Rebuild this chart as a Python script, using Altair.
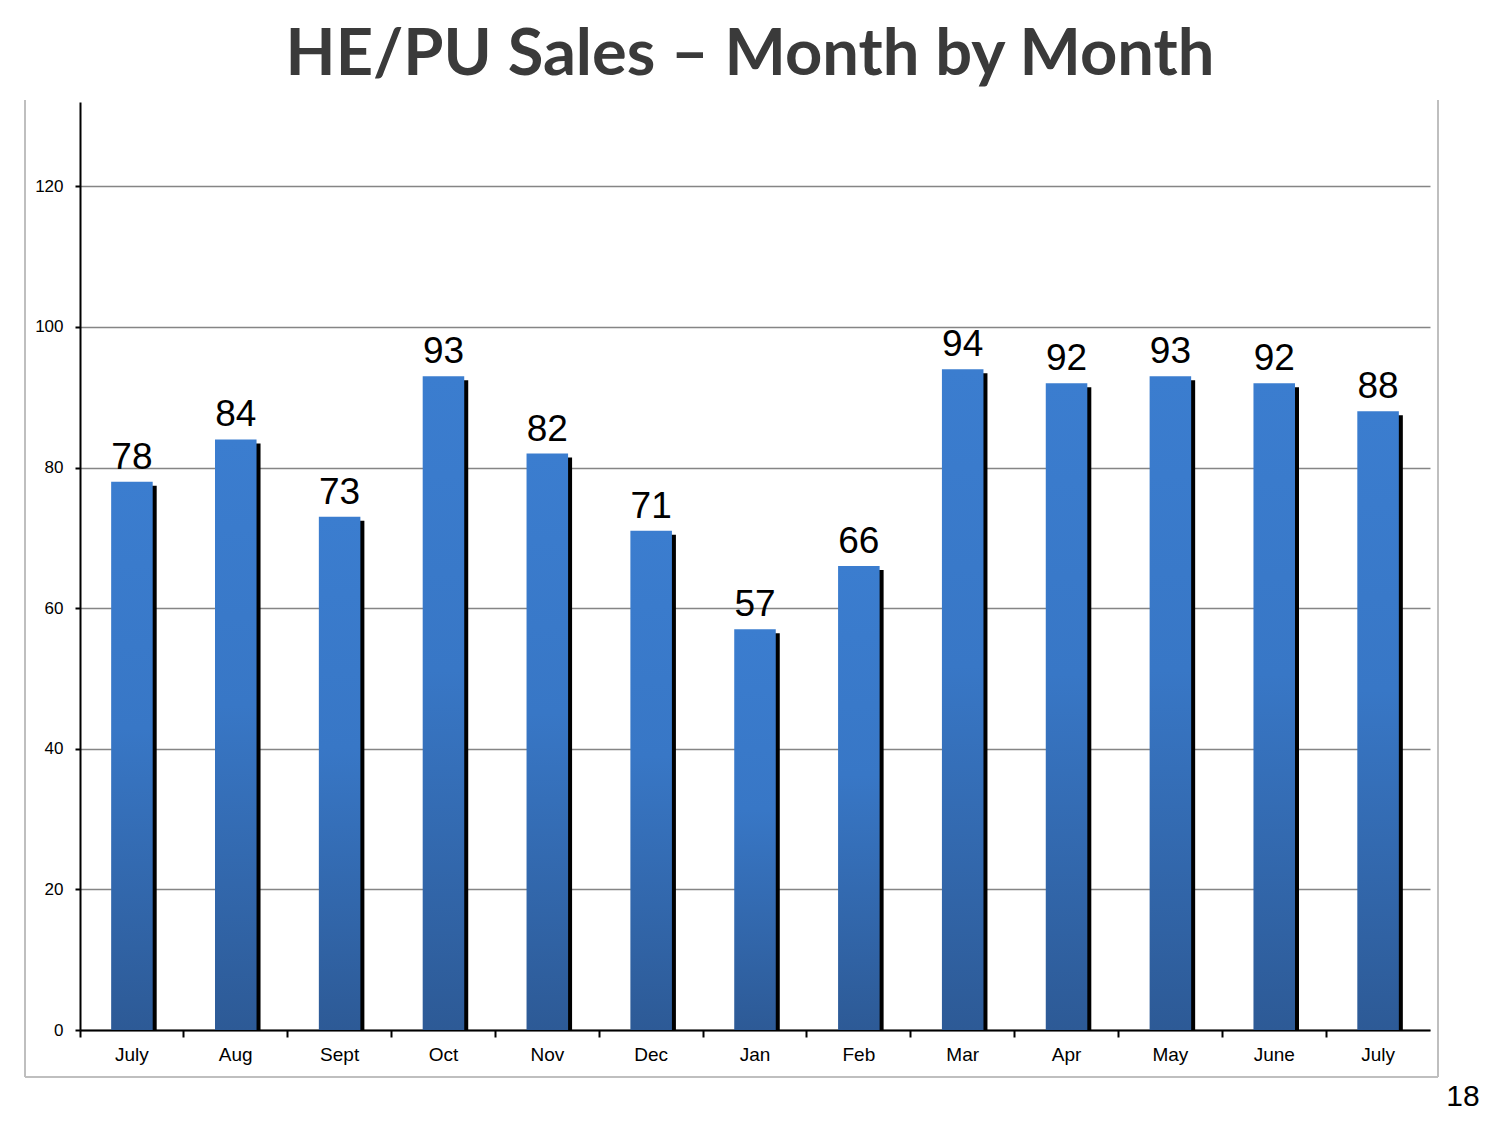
import json
import altair as alt
import pandas as pd

months = ["July", "Aug", "Sept", "Oct", "Nov", "Dec", "Jan", "Feb", "Mar", "Apr", "May", "June", "July"]
sales = [78, 84, 73, 93, 82, 71, 57, 66, 94, 92, 93, 92, 88]
y_ticks = [0, 20, 40, 60, 80, 100, 120]
title_text = "HE/PU Sales \u2013 Month by Month"
page_number = "18"

df = pd.DataFrame({"pos": list(range(len(months))), "month": months, "sales": sales})

W, H = 1350, 928
label_expr = json.dumps(months) + "[datum.value]"

x_enc = alt.X(
    "pos:O",
    scale=alt.Scale(paddingInner=0, paddingOuter=0),
    axis=alt.Axis(
        title=None, labelExpr=label_expr, labelAngle=0, labelFont="Liberation Sans",
        labelFontSize=19, labelColor="black", labelPadding=8, tickSize=7, tickWidth=2,
        tickColor="black", domainColor="black", domainWidth=2, bandPosition=0, grid=False,
    ),
)
y_scale = alt.Scale(domain=[0, 132], nice=False, zero=True)
y_axis = alt.Axis(
    title=None, values=y_ticks, labelFont="Liberation Sans", labelFontSize=17,
    labelColor="black", labelPadding=12, tickSize=5, tickWidth=2, tickColor="black",
    domainColor="black", domainWidth=2, grid=True, gridColor="#858585", gridWidth=1.7,
)

base = alt.Chart(df)

shadow = base.mark_bar(
    color="black", width={"band": 0.4}, xOffset=4, yOffset=4, y2Offset=0
).encode(x=x_enc, y=alt.Y("sales:Q", scale=y_scale, axis=y_axis), y2=alt.datum(0))

bars = base.mark_bar(
    width={"band": 0.4},
    color=alt.Gradient(
        gradient="linear",
        stops=[
            alt.GradientStop(color="#3b7dcf", offset=0),
            alt.GradientStop(color="#3877c6", offset=0.45),
            alt.GradientStop(color="#2d5a96", offset=1),
        ],
        x1=0, x2=0, y1=0, y2=1,
    ),
).encode(x=x_enc, y=alt.Y("sales:Q", scale=y_scale, axis=y_axis))

labels = base.mark_text(
    font="Liberation Sans", fontSize=37, color="black", baseline="alphabetic", dy=-13
).encode(x=x_enc, y=alt.Y("sales:Q", scale=y_scale), text="sales:Q")

title = alt.Chart(pd.DataFrame({"t": [title_text]})).mark_text(
    font="Lato", fontWeight="bold", fontSize=65, color="#3a3a3a", baseline="alphabetic", align="center"
).encode(x=alt.value(670), y=alt.value(-27), text="t:N")

pnum = alt.Chart(pd.DataFrame({"t": [page_number]})).mark_text(
    font="Liberation Sans", fontSize=30, color="black", baseline="top", align="center"
).encode(x=alt.value(1383), y=alt.value(980), text="t:N")

frame_color = "#bfbfbf"
frame_left = alt.Chart(pd.DataFrame({"a": [0]})).mark_rule(color=frame_color, strokeWidth=2).encode(
    x=alt.value(-55), y=alt.value(-2), y2=alt.value(975))
frame_right = alt.Chart(pd.DataFrame({"a": [0]})).mark_rule(color=frame_color, strokeWidth=2).encode(
    x=alt.value(1358), y=alt.value(-2), y2=alt.value(975))
frame_bottom = alt.Chart(pd.DataFrame({"a": [0]})).mark_rule(color=frame_color, strokeWidth=2).encode(
    x=alt.value(-55), x2=alt.value(1358), y=alt.value(975))

chart = alt.layer(
    frame_left, frame_right, frame_bottom, shadow, bars, labels, title, pnum
).properties(
    width=W, height=H,
    autosize=alt.AutoSizeParams(type="none"),
    padding={"left": 72, "top": 94, "right": 62, "bottom": 95},
).configure_view(stroke=None).configure_axis(labelFont="Liberation Sans")

chart.save("out.html", embed_options={"renderer": "svg", "actions": False})
